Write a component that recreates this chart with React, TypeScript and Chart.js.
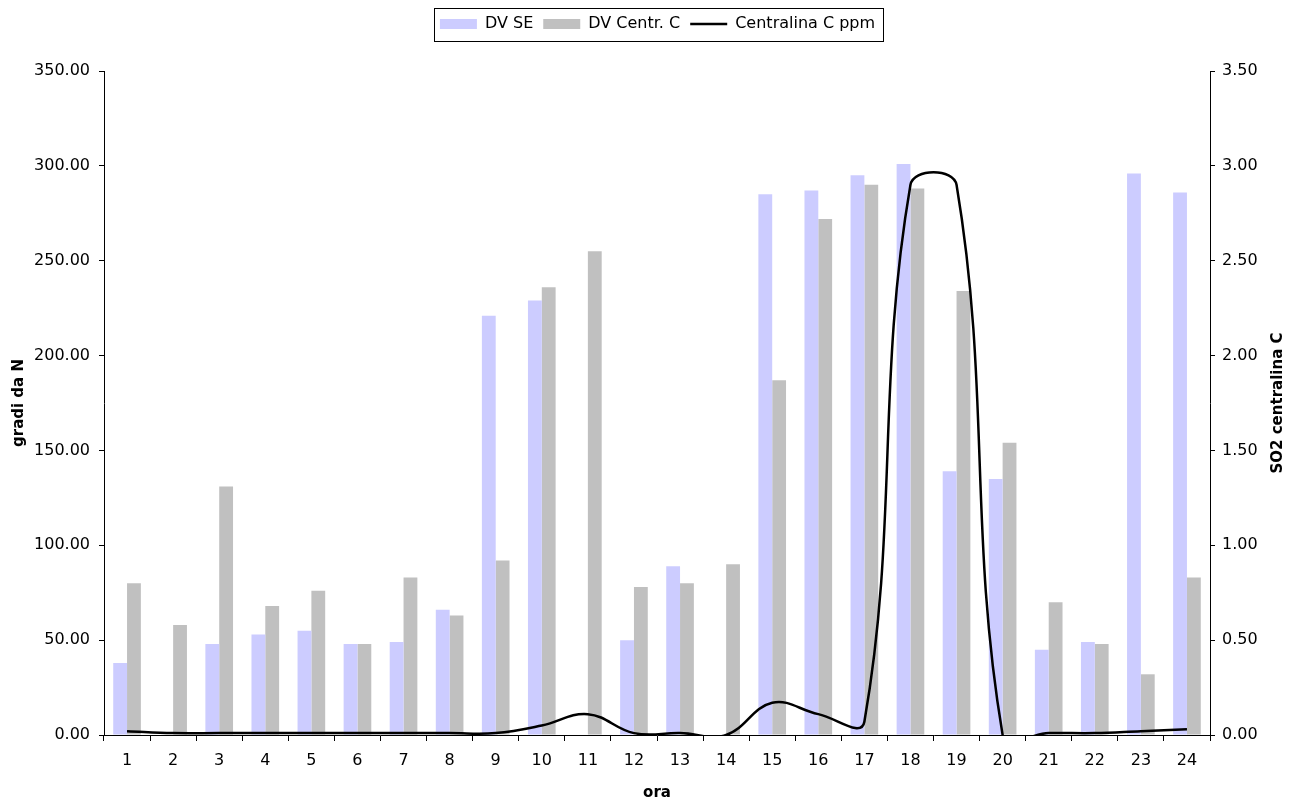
import React, { useEffect, useRef } from "react";
import { Chart, registerables } from "chart.js";

Chart.register(...registerables);

// ---- data ----
const hours = ["1", "2", "3", "4", "5", "6", "7", "8", "9", "10", "11", "12", "13", "14", "15", "16", "17", "18", "19", "20", "21", "22", "23", "24"];
const dvSE = [38, null, 48, 53, 55, 48, 49, 66, 221, 229, null, 50, 89, null, 285, 287, 295, 301, 139, 135, 45, 49, 296, 286];
const dvCentrC = [80, 58, 131, 68, 76, 48, 83, 63, 92, 236, 255, 78, 80, 90, 187, 272, 290, 288, 234, 154, 70, 48, 32, 83];
const centralinaC = [0.02, 0.01, 0.01, 0.01, 0.01, 0.01, 0.01, 0.01, 0.01, 0.05, 0.11, 0.01, 0.01, 0.0, 0.17, 0.11, 0.07, 2.9, 2.9, 0.0, 0.01, 0.01, 0.02, 0.03];
const seriesNames = ["DV SE", "DV Centr. C", "Centralina C ppm"];
const leftAxis = { min: 0, max: 350, step: 50 };
const rightAxis = { min: 0, max: 3.5, step: 0.5 };
const leftTitle = "gradi da N";
const rightTitle = "SO2 centralina C";
const xTitle = "ora";

const FONT = "'DejaVu Sans', 'Liberation Sans', sans-serif";

const legendBoxPlugin = {
  id: "legendBox",
  afterDraw(chart: any) {
    const hb = chart.legend && chart.legend.legendHitBoxes;
    if (!hb || !hb.length) return;
    const left = Math.min(...hb.map((h: any) => h.left));
    const right = Math.max(...hb.map((h: any) => h.left + h.width));
    const top = Math.min(...hb.map((h: any) => h.top));
    const bottom = Math.max(...hb.map((h: any) => h.top + h.height));
    const ctx = chart.ctx;
    ctx.save();
    ctx.strokeStyle = "#000";
    ctx.lineWidth = 1;
    ctx.strokeRect(Math.round(left - 6) + 0.5, Math.round(top - 8) + 0.5, Math.round(right - left + 14), Math.round(bottom - top + 17));
    ctx.restore();
  },
};

const rightTitlePlugin = {
  id: "rightTitle",
  afterDraw(chart: any) {
    const a = chart.chartArea;
    const s = chart.scales.y1;
    const ctx = chart.ctx;
    ctx.save();
    ctx.translate(s.right - 21, (a.top + a.bottom) / 2);
    ctx.rotate(-Math.PI / 2);
    ctx.font = `bold 15px ${FONT}`;
    ctx.textAlign = "center";
    ctx.textBaseline = "middle";
    ctx.fillStyle = "#000";
    ctx.fillText(rightTitle, 0, 0);
    ctx.restore();
  },
};

export default function App() {
  const ref = useRef<HTMLCanvasElement | null>(null);

  useEffect(() => {
    document.body.style.margin = "0";
    const canvas = ref.current;
    if (!canvas) return;
    const chart = new Chart(canvas, {
      type: "bar",
      data: {
        labels: hours,
        datasets: [
          {
            type: "bar",
            label: seriesNames[0],
            data: dvSE,
            backgroundColor: "#CCCCFF",
            borderWidth: 0,
            yAxisID: "y",
            categoryPercentage: 0.6,
            barPercentage: 1.0,
          } as any,
          {
            type: "bar",
            label: seriesNames[1],
            data: dvCentrC,
            backgroundColor: "#C0C0C0",
            borderWidth: 0,
            yAxisID: "y",
            categoryPercentage: 0.6,
            barPercentage: 1.0,
          } as any,
          {
            type: "line",
            label: seriesNames[2],
            data: centralinaC,
            borderColor: "#000",
            backgroundColor: "#000",
            borderWidth: 2.5,
            pointRadius: 0,
            tension: 0.4,
            capBezierPoints: false,
            fill: false,
            yAxisID: "y1",
            order: -1,
          } as any,
        ],
      },
      options: {
        animation: false,
        responsive: false,
        events: [],
        layout: { padding: { left: 16, top: 6, right: 0, bottom: 0 } },
        plugins: {
          tooltip: { enabled: false },
          subtitle: {
            display: true,
            text: "",
            weight: 900,
            font: { size: 10, lineHeight: 1 },
            padding: { top: 0, bottom: 19 },
          },
          legend: {
            display: true,
            position: "top",
            labels: {
              usePointStyle: true,
              pointStyleWidth: 37,
              boxHeight: 10,
              padding: 10,
              color: "#000",
              font: { family: FONT, size: 16 },
              generateLabels: (chart: any) => {
                const items = Chart.defaults.plugins.legend.labels.generateLabels(chart);
                items.forEach((it: any) => {
                  const ds: any = chart.data.datasets[it.datasetIndex];
                  if (ds.type === "line") {
                    it.pointStyle = "line";
                    it.strokeStyle = "#000";
                    it.lineWidth = 2.5;
                  } else {
                    it.pointStyle = "rect";
                    it.lineWidth = 0;
                  }
                });
                return items.sort((a: any, b: any) => a.datasetIndex - b.datasetIndex);
              },
            },
          },
        },
        scales: {
          x: {
            offset: true,
            grid: { display: true, drawOnChartArea: false, drawTicks: true, tickLength: 6, color: "#000", offset: true },
            border: { display: true, color: "#000", width: 1 },
            ticks: { color: "#000", font: { family: FONT, size: 16 }, padding: 10, maxRotation: 0, autoSkip: false },
            title: { display: true, text: xTitle, color: "#000", font: { family: FONT, size: 15, weight: "bold" }, padding: { top: 0, bottom: 1 } },
            afterFit: (s: any) => {
              s.height = 68;
            },
          },
          y: {
            position: "left",
            min: leftAxis.min,
            max: leftAxis.max,
            grid: { display: true, drawOnChartArea: false, drawTicks: true, tickLength: 5, color: "#000" },
            border: { display: true, color: "#000", width: 1 },
            ticks: {
              stepSize: leftAxis.step,
              color: "#000",
              font: { family: FONT, size: 16 },
              padding: 9,
              callback: (v: any) => Number(v).toFixed(2),
            },
            title: { display: true, text: leftTitle, color: "#000", font: { family: FONT, size: 15, weight: "bold" }, padding: { top: -6, bottom: 0 } },
            afterFit: (s: any) => {
              s.width = 88;
            },
          },
          y1: {
            position: "right",
            min: rightAxis.min,
            max: rightAxis.max,
            grid: { display: true, drawOnChartArea: false, drawTicks: true, tickLength: 5, color: "#000" },
            border: { display: true, color: "#000", width: 1 },
            ticks: {
              stepSize: rightAxis.step,
              color: "#000",
              font: { family: FONT, size: 16 },
              padding: 7,
              callback: (v: any) => Number(v).toFixed(2),
            },
            afterFit: (s: any) => {
              s.width = 89;
            },
          },
        },
      } as any,
      plugins: [legendBoxPlugin, rightTitlePlugin],
    });
    return () => chart.destroy();
  }, []);

  return (
    <div style={{ width: 1299, height: 803 }}>
      <canvas ref={ref} width={1299} height={803} style={{ display: "block" }} />
    </div>
  );
}
